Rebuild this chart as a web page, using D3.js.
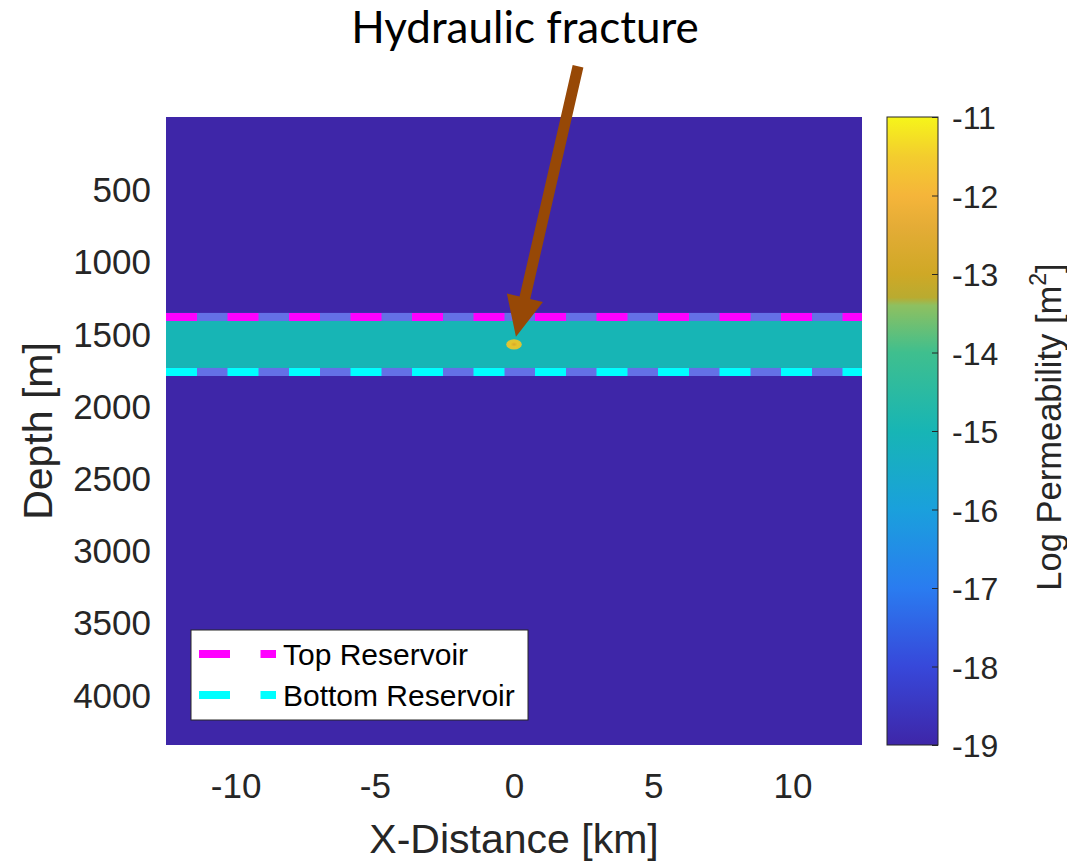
<!DOCTYPE html>
<html>
<head>
<meta charset="utf-8">
<script src="https://cdn.jsdelivr.net/npm/d3@7"></script>
<style>
  html, body { margin: 0; padding: 0; background: #ffffff; }
  svg { display: block; }
</style>
</head>
<body>
<svg id="chart" width="1067" height="865"></svg>
<script>
// ---------------- DATA ----------------
const xTicks = [-10, -5, 0, 5, 10];                       // km
const depthTicks = [500, 1000, 1500, 2000, 2500, 3000, 3500, 4000]; // m
const cbTicks = [-11, -12, -13, -14, -15, -16, -17, -18, -19];

const xDomain = [-12.5, 12.5];
const depthDomain = [0, 4350];
const cbDomain = [-19, -11];

// layers of the permeability model
const layerNames = ["Host rock", "Reservoir"];
const layerTop = [0, 1385];
const layerBottom = [4350, 1766];
const layerLogPerm = [-19, -15];

// reservoir boundary lines
const boundaryNames = ["Top Reservoir", "Bottom Reservoir"];
const boundaryDepth = [1385, 1766];
const boundaryColors = ["#ff00ff", "#00ffff"];

// hydraulic fracture (small high-permeability spot)
const fractureX = [0];
const fractureDepth = [1575];
const fractureHalfWidthKm = [0.28];
const fractureHalfHeightM = [36];
const fractureLogPerm = [-12.4];

// colormap (parula-like)
const cmapValues = [-19, -18, -17, -16, -15, -14, -13.4, -13.3, -13, -12.4, -12, -11.5, -11];
const cmapColors = ["#3e26a8", "#3748da", "#2a7cf0", "#1aa0dc", "#17b5b5", "#3fbf8e",
                    "#8ec060", "#b9ab30", "#cfa826", "#e4ac36", "#f5b53a", "#f3cd2e", "#f6f51a"];

// annotation arrow (data units: km, m)
const arrowStart = [2.3, -352];
const arrowTip = [0.07, 1522];
const annotationText = "Hydraulic fracture";

// ---------------- LAYOUT ----------------
const svg = d3.select("#chart");
const plot = { left: 166, right: 862, top: 117, bottom: 745 };
const cb = { left: 887, right: 938, top: 117, bottom: 745 };

const x = d3.scaleLinear().domain(xDomain).range([plot.left, plot.right]);
const y = d3.scaleLinear().domain(depthDomain).range([plot.top, plot.bottom]);
const color = d3.scaleLinear().domain(cmapValues).range(cmapColors).interpolate(d3.interpolateRgb);
const cbY = d3.scaleLinear().domain(cbDomain).range([cb.bottom, cb.top]);

const axisFont = "'Liberation Sans', Arial, Helvetica, sans-serif";
const fmt = d => String(d);   // plain hyphen-minus as in the reference
const defs = svg.append("defs");

// clip for plot area
defs.append("clipPath").attr("id", "plotClip")
  .append("rect")
  .attr("x", plot.left).attr("y", plot.top)
  .attr("width", plot.right - plot.left).attr("height", plot.bottom - plot.top);

const g = svg.append("g").attr("clip-path", "url(#plotClip)");

// layers
g.selectAll("rect.layer")
  .data(layerNames.map((n, i) => ({ n, top: layerTop[i], bottom: layerBottom[i], v: layerLogPerm[i] })))
  .join("rect")
  .attr("class", "layer")
  .attr("x", x(xDomain[0]))
  .attr("width", x(xDomain[1]) - x(xDomain[0]))
  .attr("y", d => y(d.top))
  .attr("height", d => y(d.bottom) - y(d.top))
  .attr("fill", d => color(d.v));

// transition strips at the reservoir boundaries (interpolated cells)
g.selectAll("rect.transition")
  .data(boundaryDepth)
  .join("rect")
  .attr("class", "transition")
  .attr("x", x(xDomain[0]))
  .attr("width", x(xDomain[1]) - x(xDomain[0]))
  .attr("y", d => y(d - 28))
  .attr("height", y(56) - y(0))
  .attr("fill", "#6470e6");

// fracture spot
const fg = defs.append("radialGradient").attr("id", "fracGrad");
fg.append("stop").attr("offset", "0%").attr("stop-color", "#d9a82a");
fg.append("stop").attr("offset", "45%").attr("stop-color", "#e6c42a");
fg.append("stop").attr("offset", "100%").attr("stop-color", "#d8c43a");
defs.append("filter").attr("id", "soft").attr("x", "-50%").attr("y", "-50%").attr("width", "200%").attr("height", "200%")
  .append("feGaussianBlur").attr("stdDeviation", 0.7);

g.selectAll("ellipse.frac")
  .data(fractureX.map((fx, i) => ({ fx, d: fractureDepth[i], hw: fractureHalfWidthKm[i], hh: fractureHalfHeightM[i] })))
  .join("ellipse")
  .attr("class", "frac")
  .attr("cx", d => x(d.fx))
  .attr("cy", d => y(d.d))
  .attr("rx", d => x(d.hw) - x(0))
  .attr("ry", d => y(d.hh) - y(0))
  .attr("fill", "url(#fracGrad)")
  .attr("filter", "url(#soft)");

// boundary dashed lines
g.selectAll("line.boundary")
  .data(boundaryDepth.map((d, i) => ({ d, c: boundaryColors[i] })))
  .join("line")
  .attr("class", "boundary")
  .attr("x1", x(xDomain[0])).attr("x2", x(xDomain[1]))
  .attr("y1", d => y(d.d)).attr("y2", d => y(d.d))
  .attr("stroke", d => d.c)
  .attr("stroke-width", 8)
  .attr("stroke-dasharray", "31,30.5");

// ---------------- AXES ----------------
const xAxis = d3.axisBottom(x).tickValues(xTicks).tickSize(0).tickPadding(0).tickFormat(fmt);
const xa = svg.append("g").attr("transform", `translate(0,${plot.bottom})`).call(xAxis);
xa.select(".domain").remove();
xa.selectAll("text")
  .attr("y", 53).attr("dy", 0)
  .attr("font-family", axisFont).attr("font-size", 35).attr("fill", "#262626");

const yAxis = d3.axisLeft(y).tickValues(depthTicks).tickSize(0).tickPadding(0).tickFormat(fmt);
const ya = svg.append("g").attr("transform", `translate(${plot.left},0)`).call(yAxis);
ya.select(".domain").remove();
ya.selectAll("text")
  .attr("x", -15).attr("dy", "0.36em")
  .attr("font-family", axisFont).attr("font-size", 35).attr("fill", "#262626");

svg.append("text")
  .attr("x", (plot.left + plot.right) / 2).attr("y", 853)
  .attr("text-anchor", "middle")
  .attr("font-family", axisFont).attr("font-size", 41).attr("fill", "#262626")
  .text("X-Distance [km]");

svg.append("text")
  .attr("transform", `translate(52,${(plot.top + plot.bottom) / 2}) rotate(-90)`)
  .attr("text-anchor", "middle")
  .attr("font-family", axisFont).attr("font-size", 41).attr("fill", "#262626")
  .text("Depth [m]");

// ---------------- COLORBAR ----------------
const lg = defs.append("linearGradient").attr("id", "cbGrad")
  .attr("x1", 0).attr("y1", 1).attr("x2", 0).attr("y2", 0);
lg.selectAll("stop")
  .data(cmapValues.map((v, i) => ({ v, c: cmapColors[i] })))
  .join("stop")
  .attr("offset", d => (d.v - cbDomain[0]) / (cbDomain[1] - cbDomain[0]))
  .attr("stop-color", d => d.c);

svg.append("rect")
  .attr("x", cb.left).attr("y", cb.top)
  .attr("width", cb.right - cb.left).attr("height", cb.bottom - cb.top)
  .attr("fill", "url(#cbGrad)")
  .attr("stroke", "#262626").attr("stroke-width", 1);

const cbAxis = d3.axisRight(cbY).tickValues(cbTicks).tickSize(-6).tickPadding(0).tickFormat(fmt);
const ca = svg.append("g").attr("transform", `translate(${cb.right},0)`).call(cbAxis);
ca.select(".domain").remove();
ca.selectAll(".tick line").attr("stroke", "#262626").attr("stroke-width", 1);
ca.selectAll("text")
  .attr("x", 14).attr("dy", "0.36em")
  .attr("font-family", axisFont).attr("font-size", 32).attr("fill", "#262626");

const cbLabel = svg.append("text")
  .attr("transform", `translate(1061,${(cb.top + cb.bottom) / 2 - 4}) rotate(-90)`)
  .attr("text-anchor", "middle")
  .attr("font-family", axisFont).attr("font-size", 34.5).attr("fill", "#262626");
cbLabel.append("tspan").text("Log Permeability [m");
cbLabel.append("tspan").attr("font-size", 23).attr("dy", -15).text("2");
cbLabel.append("tspan").attr("dy", 15).text("]");

// ---------------- LEGEND ----------------
const leg = { x: 191, y: 630, w: 337, h: 90 };
svg.append("rect")
  .attr("x", leg.x).attr("y", leg.y).attr("width", leg.w).attr("height", leg.h)
  .attr("fill", "#ffffff").attr("stroke", "#262626").attr("stroke-width", 1);
const rows = svg.selectAll("g.legrow")
  .data(boundaryNames.map((n, i) => ({ n, c: boundaryColors[i], i })))
  .join("g").attr("class", "legrow")
  .attr("transform", d => `translate(${leg.x},${leg.y + 24 + d.i * 41})`);
rows.append("line")
  .attr("x1", 8).attr("x2", 85).attr("y1", 0).attr("y2", 0)
  .attr("stroke", d => d.c).attr("stroke-width", 8)
  .attr("stroke-dasharray", "31,30.5");
rows.append("text")
  .attr("x", 92).attr("dy", "0.36em")
  .attr("font-family", axisFont).attr("font-size", 30).attr("fill", "#000")
  .text(d => d.n);

// ---------------- ANNOTATION ----------------
svg.append("text")
  .attr("x", 525).attr("y", 43)
  .attr("text-anchor", "middle")
  .attr("font-family", "Lato, 'Open Sans', sans-serif").attr("font-size", 44).attr("fill", "#000")
  .text(annotationText);

const p0 = [x(arrowStart[0]), y(arrowStart[1])];
const p1 = [x(arrowTip[0]), y(arrowTip[1])];
const dx = p1[0] - p0[0], dy = p1[1] - p0[1];
const len = Math.hypot(dx, dy);
const ux = dx / len, uy = dy / len, nx = -uy, ny = ux;
const headLen = 40, headHalf = 18.5, shaftHalf = 5.5;
const hb = [p1[0] - ux * headLen, p1[1] - uy * headLen];
const arrowPts = [
  [p0[0] + nx * shaftHalf, p0[1] + ny * shaftHalf],
  [hb[0] + nx * shaftHalf, hb[1] + ny * shaftHalf],
  [hb[0] + nx * headHalf, hb[1] + ny * headHalf],
  p1,
  [hb[0] - nx * headHalf, hb[1] - ny * headHalf],
  [hb[0] - nx * shaftHalf, hb[1] - ny * shaftHalf],
  [p0[0] - nx * shaftHalf, p0[1] - ny * shaftHalf]
];
svg.append("path")
  .attr("d", d3.line()(arrowPts) + "Z")
  .attr("fill", "#974806");
</script>
</body>
</html>
